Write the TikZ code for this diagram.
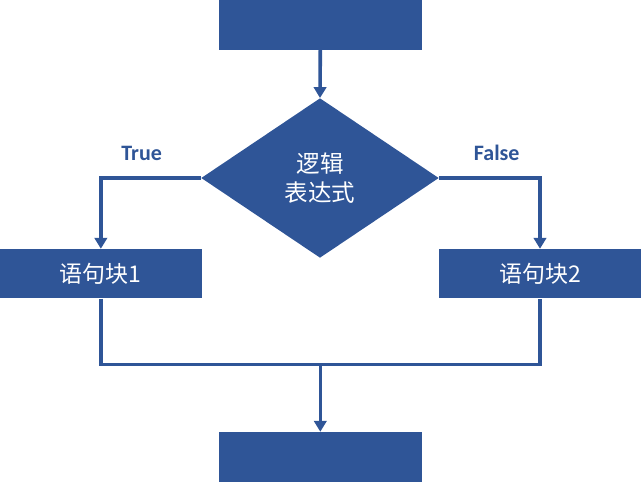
\documentclass[tikz,border=0pt]{standalone}
\usepackage{fontspec}
\newfontfamily\cjk{Noto Sans CJK SC}
\newfontfamily\carlito{Carlito}
\usetikzlibrary{shapes.geometric,arrows.meta}
\definecolor{fcblue}{HTML}{2F5597}
\tikzset{
  blk/.style={rectangle,fill=fcblue,draw=none,inner sep=0pt,text=white,font=\cjk\fontsize{23}{27}\selectfont},
  dec/.style={diamond,fill=fcblue,draw=none,inner sep=0pt,text=white,align=center,minimum width=237.5pt,minimum height=159.5pt,font=\cjk\fontsize{23.5}{29}\selectfont},
  conn/.style={draw=fcblue,line width=3.6pt},
  arr/.style={conn,-{Triangle[width=12.5pt,length=11pt]}},
  lbl/.style={text=fcblue,font=\carlito\bfseries\fontsize{22}{26}\selectfont,inner sep=0pt}
}
\begin{document}
\begin{tikzpicture}[x=1pt,y=-1pt]
\useasboundingbox (0,0) rectangle (641,482);
\node[blk,minimum width=202.7pt,minimum height=50pt] (top) at (320.3,25) {};
\node[dec] (dia) at (320,178) {逻辑\\表达式};
\node[blk,minimum width=201.7pt,minimum height=49.3pt] (b1) at (100.85,273.65) {语句块1};
\node[blk,minimum width=202pt,minimum height=49.3pt] (b2) at (540,273.65) {语句块2};
\node[blk,minimum width=202.7pt,minimum height=50pt] (bot) at (320.3,457) {};
\coordinate (m) at (320.3,364.3);
\node[lbl] (t) at (141.7,153) {True};
\node[lbl] (f) at (496.7,153) {False};
\draw[arr] (top.south) -- (dia.north);
\draw[arr] (dia.west) -| (b1.north);
\draw[arr] (dia.east) -| (b2.north);
\draw[conn] (b1.south) |- (m) -| (b2.south);
\draw[arr] (m) -- (bot.north);
\end{tikzpicture}
\end{document}
